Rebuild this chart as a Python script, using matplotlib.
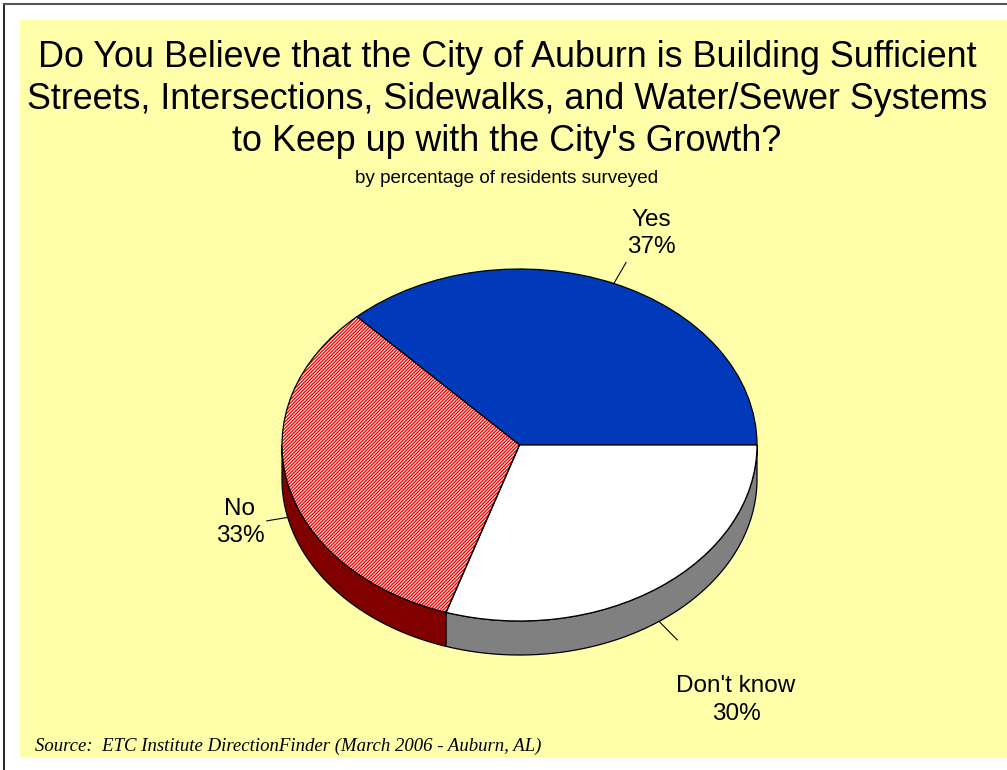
import numpy as np
import matplotlib
matplotlib.use("Agg")
import matplotlib.pyplot as plt
from matplotlib.patches import Rectangle, Polygon, Wedge
from matplotlib.lines import Line2D

# ---- data ----
categories = ["Yes", "No", "Don't know"]
percents = [37, 33, 30]

# ---- style ----
top_colors = ["#0039BA", "white", "white"]
side_colors = ["#0039BA", "#800000", "#808080"]
hatches = [None, "//////////", None]
hatch_color = "#FF0000"
panel_color = "#FFFFAA"

plt.rcParams["font.family"] = ["Liberation Sans", "DejaVu Sans"]
plt.rcParams["hatch.linewidth"] = 1.0

W, H = 1007, 770
fig = plt.figure(figsize=(W / 100, H / 100), dpi=100)
fig.patch.set_facecolor("white")

# background panel and frame
fig.add_artist(Rectangle((20 / W, 1 - 757 / H), 1 - 20 / W, (757 - 20) / H,
                         transform=fig.transFigure, facecolor=panel_color,
                         edgecolor="none", zorder=0))
fig.add_artist(Line2D([4 / W, 4 / W], [0, 1 - 4 / H], transform=fig.transFigure,
                      color="black", lw=1.2))
fig.add_artist(Line2D([4 / W, 1], [1 - 4 / H, 1 - 4 / H], transform=fig.transFigure,
                      color="#555555", lw=1.5))

# titles
title_lines = [
    "Do You Believe that the City of Auburn is Building Sufficient",
    "Streets, Intersections, Sidewalks, and Water/Sewer Systems",
    "to Keep up with the City's Growth?",
]
for i, line in enumerate(title_lines):
    fig.text(507 / W, 1 - (67 + 42 * i) / H, line, ha="center", va="baseline",
             fontsize=25.8, color="black")
fig.text(507 / W, 1 - 183 / H, "by percentage of residents surveyed",
         ha="center", va="baseline", fontsize=13.6, color="black")
fig.text(35 / W, 1 - 751 / H,
         "Source:  ETC Institute DirectionFinder (March 2006 - Auburn, AL)",
         ha="left", va="baseline", fontsize=13.5, style="italic",
         family=["Liberation Serif", "DejaVu Serif"], color="black")

# ---- pie (elliptical top face, drawn in a stretched axes) ----
cx, cy, rx, ry = 519.5, 445, 237.5, 176
ax = fig.add_axes([(cx - rx) / W, 1 - (cy + ry) / H, 2 * rx / W, 2 * ry / H])
ax.set_axis_off()
depth = 34 / ry

wedges, _ = ax.pie(percents, startangle=0, counterclock=True, colors=top_colors,
                   wedgeprops=dict(edgecolor="black", linewidth=0.9))
ax.set_aspect("auto")
ax.set_xlim(-1, 1)
ax.set_ylim(-1, 1)

total = float(sum(percents))
bounds = np.concatenate([[0], np.cumsum(percents)]) * 360.0 / total

for w, hatch in zip(wedges, hatches):
    w.set_clip_on(False)
    w.set_zorder(2)
    if hatch:
        w.set_hatch(hatch)
        w.set_edgecolor(hatch_color)
        w.set_linewidth(0)
        outline = Wedge(w.center, w.r, w.theta1, w.theta2, facecolor="none",
                        edgecolor="black", linewidth=0.9, zorder=3)
        outline.set_clip_on(False)
        ax.add_patch(outline)

# side walls for the front half of the pie
for i in range(len(percents)):
    a1, a2 = max(bounds[i], 180.0), min(bounds[i + 1], 360.0)
    if a2 <= a1:
        continue
    t = np.radians(np.linspace(a1, a2, 200))
    top = np.column_stack([np.cos(t), np.sin(t)])
    bot = np.column_stack([np.cos(t[::-1]), np.sin(t[::-1]) - depth])
    poly = Polygon(np.vstack([top, bot]), closed=True, facecolor=side_colors[i],
                   edgecolor="black", linewidth=0.9, zorder=1)
    poly.set_clip_on(False)
    ax.add_patch(poly)

# labels with leader lines
label_pos = [(0.554, 1.202), (-1.177, -0.44), (0.912, -1.449)]
leader_len = [0.13, 0.09, 0.13]
for i, (name, pct) in enumerate(zip(categories, percents)):
    mid = np.radians((bounds[i] + bounds[i + 1]) / 2)
    ux, uy = np.cos(mid), np.sin(mid)
    ax0, ay0 = ux, uy - (depth if uy < 0 else 0)
    ax1, ay1 = ax0 + ux * leader_len[i], ay0 + uy * leader_len[i]
    ax.plot([ax0, ax1], [ay0, ay1], color="black", lw=0.8, clip_on=False, zorder=4)
    ax.text(label_pos[i][0], label_pos[i][1], f"{name}\n{pct}%", ha="center",
            va="center", multialignment="center", fontsize=17.5, linespacing=1.3,
            color="black", clip_on=False)

fig.savefig("out.png", dpi=100, facecolor=fig.get_facecolor())
